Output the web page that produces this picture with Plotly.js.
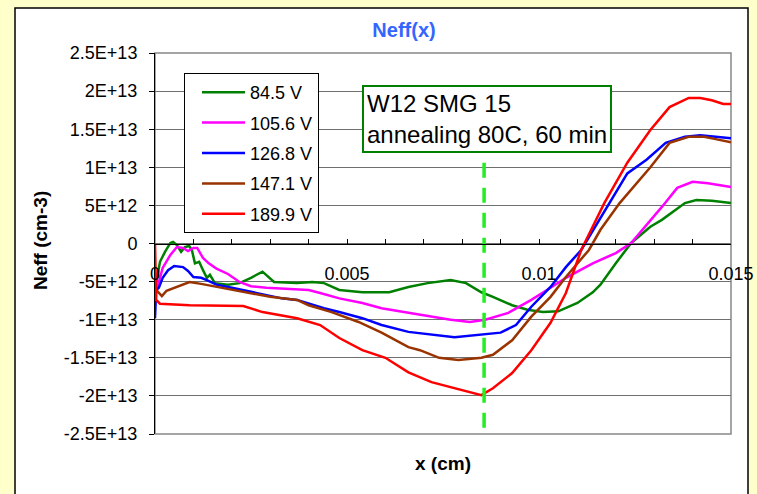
<!DOCTYPE html>
<html>
<head>
<meta charset="utf-8">
<script src="https://cdn.plot.ly/plotly-3.0.1.min.js"></script>
<style>html,body{margin:0;padding:0;background:#FFFFCC;}#chart{width:757px;height:494px;}</style>
</head>
<body>
<div id="chart"></div>
<script>
// Series names
var seriesNames = ["84.5 V", "105.6 V", "126.8 V", "147.1 V", "189.9 V"];
var seriesColors = ["#008000", "#FF00FF", "#0000FF", "#993300", "#FF0000"];

// 84.5 V
var x845 = [0.00003,0.00013,0.00026,0.0004,0.00047,0.00057,0.00068,0.00078,0.00089,0.00096,0.00104,0.00115,0.00125,0.00135,0.00143,0.00156,0.0019,0.0022,0.0025,0.0028,0.0031,0.0037,0.0041,0.0044,0.0048,0.0054,0.0061,0.0066,0.0071,0.0077,0.0081,0.0085,0.0088,0.0093,0.0097,0.0101,0.0105,0.011,0.0114,0.0116,0.012,0.0124,0.0129,0.0132,0.0138,0.0141,0.0145,0.015];
var y845 = [-5.2e12,-2.4e12,-1.1e12,0.07e12,0.2e12,-0.2e12,-1.1e12,-0.46e12,-0.33e12,-0.85e12,-2.6e12,-2.4e12,-3.5e12,-4.5e12,-4.1e12,-5.2e12,-5.4e12,-5.2e12,-4.5e12,-3.7e12,-5.05e12,-5.2e12,-5.05e12,-5.2e12,-6.1e12,-6.4e12,-6.4e12,-5.7e12,-5.2e12,-4.8e12,-5.2e12,-6.4e12,-7.0e12,-8.1e12,-8.7e12,-9.0e12,-8.9e12,-7.8e12,-6.4e12,-5.4e12,-2.6e12,0.07e12,2.2e12,3.1e12,5.3e12,5.7e12,5.6e12,5.3e12];

// 105.6 V
var x1056 = [0.00003,0.0002,0.0004,0.00057,0.00073,0.00086,0.001,0.0011,0.00125,0.0014,0.0016,0.0019,0.0022,0.0025,0.0029,0.0038,0.004,0.0043,0.0048,0.0054,0.0059,0.0066,0.0077,0.0082,0.0086,0.0092,0.0098,0.0103,0.0107,0.0114,0.012,0.0124,0.0129,0.0132,0.0136,0.014,0.0144,0.015];
var y1056 = [-6.4e12,-3.2e12,-1.5e12,-0.46e12,-0.59e12,-1.0e12,-0.59e12,-0.59e12,-1.9e12,-2.6e12,-3.3e12,-4.0e12,-5.05e12,-5.6e12,-5.8e12,-6.0e12,-6.1e12,-6.5e12,-7.2e12,-7.8e12,-8.5e12,-9.1e12,-1.0e13,-1.03e13,-1.0e13,-9.1e12,-7.4e12,-5.8e12,-4.5e12,-2.6e12,-1.25e12,0.07e12,3.0e12,4.8e12,7.3e12,8.1e12,7.9e12,7.4e12];

// 126.8 V
var x1268 = [0,0.00003,0.0001,0.0002,0.00034,0.0005,0.00073,0.00086,0.001,0.0012,0.00135,0.0016,0.002,0.0027,0.0033,0.0037,0.0044,0.0048,0.0054,0.0059,0.0066,0.0078,0.0085,0.009,0.0094,0.0098,0.0103,0.0107,0.0111,0.0117,0.0123,0.0128,0.0133,0.0138,0.0142,0.0146,0.015];
var y1268 = [-9.8e12,-6.1e12,-5.8e12,-4.5e12,-3.5e12,-2.95e12,-3.1e12,-3.6e12,-4.4e12,-4.5e12,-4.8e12,-5.4e12,-5.8e12,-6.5e12,-7.2e12,-7.4e12,-8.5e12,-9.0e12,-9.8e12,-1.07e13,-1.16e13,-1.23e13,-1.2e13,-1.17e13,-1.07e13,-8.3e12,-5.7e12,-3.1e12,-0.85e12,4.2e12,9.2e12,1.1e13,1.32e13,1.4e13,1.42e13,1.4e13,1.38e13];

// 147.1 V
var x1471 = [0.00003,0.00018,0.0003,0.00057,0.0009,0.0012,0.0016,0.002,0.0025,0.003,0.0037,0.004,0.0046,0.0053,0.0059,0.0066,0.0069,0.0074,0.0079,0.0085,0.0088,0.0093,0.0098,0.0103,0.0107,0.0113,0.0116,0.0121,0.0129,0.0134,0.0139,0.0143,0.0146,0.015];
var y1471 = [-6.1e12,-6.9e12,-6.2e12,-5.7e12,-5.05e12,-5.3e12,-5.7e12,-6.1e12,-6.5e12,-7.0e12,-7.4e12,-8.1e12,-9.0e12,-1.03e13,-1.17e13,-1.36e13,-1.4e13,-1.5e13,-1.53e13,-1.5e13,-1.46e13,-1.27e13,-9.6e12,-7.0e12,-4.4e12,-0.85e12,1.8e12,5.3e12,1.0e13,1.32e13,1.4e13,1.4e13,1.37e13,1.33e13];

// 189.9 V
var x1899 = [0,0.00003,0.00013,0.0009,0.0023,0.0028,0.0037,0.0043,0.0048,0.0054,0.006,0.0066,0.0072,0.0078,0.0085,0.0088,0.0093,0.0098,0.0103,0.0107,0.0111,0.0117,0.0123,0.0129,0.0134,0.0139,0.0142,0.0145,0.0148,0.015];
var y1899 = [0,-7.4e12,-7.9e12,-8.1e12,-8.2e12,-9.0e12,-9.8e12,-1.07e13,-1.24e13,-1.4e13,-1.5e13,-1.69e13,-1.82e13,-1.9e13,-1.99e13,-1.9e13,-1.7e13,-1.4e13,-1.04e13,-6.5e12,-0.85e12,5.3e12,1.06e13,1.49e13,1.79e13,1.91e13,1.91e13,1.88e13,1.83e13,1.83e13];

// Vertical dashed marker line
var markerX = [0.00857, 0.00857];
var markerY = [1.06e13, -2.42e13];

// Axis ticks
var yTickVals = [2.5e13, 2e13, 1.5e13, 1e13, 5e12, 0, -5e12, -1e13, -1.5e13, -2e13, -2.5e13];
var yTickText = ["2.5E+13", "2E+13", "1.5E+13", "1E+13", "5E+12", "0", "-5E+12", "-1E+13", "-1.5E+13", "-2E+13", "-2.5E+13"];
var xTickVals = [0, 0.005, 0.01, 0.015];
var xTickText = ["0", "0.005", "0.01", "0.015"];

var FONT = "Liberation Sans, Arial, sans-serif";
var xs = [x845, x1056, x1268, x1471, x1899];
var ys = [y845, y1056, y1268, y1471, y1899];

var traces = [];
for (var i = 0; i < seriesNames.length; i++) {
  traces.push({
    type: "scatter", mode: "lines", name: seriesNames[i],
    x: xs[i], y: ys[i], legendgroup: "g" + i,
    line: {color: seriesColors[i], width: 2.5},
    hoverinfo: "skip"
  });
}
traces.push({
  type: "scatter", mode: "lines", x: markerX, y: markerY, showlegend: false,
  line: {color: "#22EE22", width: 3.5, dash: "15px,10px"}, hoverinfo: "skip"
});

// plot area pixel geometry used for paper coords
var L = 155, R = 731, T = 53, B = 434, W = 757, H = 494;
function px(v) { return (v - L) / (R - L); }
function py(v) { return (B - v) / (B - T); }

var layout = {
  width: W, height: H,
  margin: {l: L, r: W - R, t: T, b: H - B, pad: 0},
  paper_bgcolor: "#FFFFCC",
  plot_bgcolor: "#FFFFFF",
  showlegend: true,
  font: {family: FONT, size: 18, color: "#000"},
  title: {
    text: "Neff(x)", xref: "container", x: 404 / W, xanchor: "center",
    yref: "container", y: 1 - 30 / H, yanchor: "middle",
    font: {family: FONT, size: 20, color: "#3366FF", weight: "bold"}
  },
  xaxis: {
    range: [0, 0.015], anchor: "free", position: 0.5,
    showline: true, linecolor: "#000", linewidth: 1,
    showgrid: false, zeroline: false,
    tickmode: "array", tickvals: xTickVals, ticktext: xTickText,
    ticks: "inside", ticklen: 5, tickcolor: "#000", tickwidth: 1,
    minor: {dtick: 0.001, tick0: 0, ticks: "inside", ticklen: 5, tickcolor: "#000", tickwidth: 1, showgrid: false},
    tickfont: {family: FONT, size: 18, color: "#000"},
    ticklabelstandoff: 14
  },
  yaxis: {
    range: [-2.5e13, 2.5e13],
    showline: true, linecolor: "#000", linewidth: 1,
    showgrid: true, gridcolor: "#707070", gridwidth: 1, zeroline: false,
    tickmode: "array", tickvals: yTickVals, ticktext: yTickText,
    ticks: "outside", ticklen: 5, tickcolor: "#000", tickwidth: 1,
    tickfont: {family: FONT, size: 18, color: "#000"},
    ticklabelstandoff: 8
  },
  legend: {
    x: px(184), y: py(73), xanchor: "left", yanchor: "top",
    bgcolor: "#FFFFFF", bordercolor: "#000", borderwidth: 1,
    font: {family: FONT, size: 18, color: "#000"},
    itemwidth: 43, tracegroupgap: 4, traceorder: "grouped", indentation: 12
  },
  shapes: [
    {type: "rect", xref: "paper", yref: "paper", layer: "below",
     x0: px(15), x1: px(748), y0: py(510), y1: py(8),
     fillcolor: "#FFFFFF", line: {color: "#000", width: 1.5}},
    {type: "rect", xref: "paper", yref: "paper", layer: "below",
     x0: 0, x1: 1, y0: 0, y1: 1,
     line: {color: "#888", width: 1.5}}
  ],
  annotations: [
    {text: "W12 SMG 15<br>annealing 80C, 60 min", xref: "paper", yref: "paper",
     x: px(362), y: py(85), xanchor: "left", yanchor: "top", align: "left",
     showarrow: false, bgcolor: "#FFFFFF", bordercolor: "#008000", borderwidth: 2, borderpad: 3,
     font: {family: FONT, size: 24, color: "#000"}},
    {text: "Neff (cm-3)", xref: "paper", yref: "paper", x: px(40), y: py(241),
     xanchor: "center", yanchor: "middle", textangle: -90, showarrow: false,
     font: {family: FONT, size: 19, color: "#000", weight: "bold"}},
    {text: "x (cm)", xref: "paper", yref: "paper", x: px(443), y: py(463),
     xanchor: "center", yanchor: "middle", showarrow: false,
     font: {family: FONT, size: 19, color: "#000", weight: "bold"}}
  ]
};

Plotly.newPlot("chart", traces, layout, {staticPlot: true});
</script>
</body>
</html>
